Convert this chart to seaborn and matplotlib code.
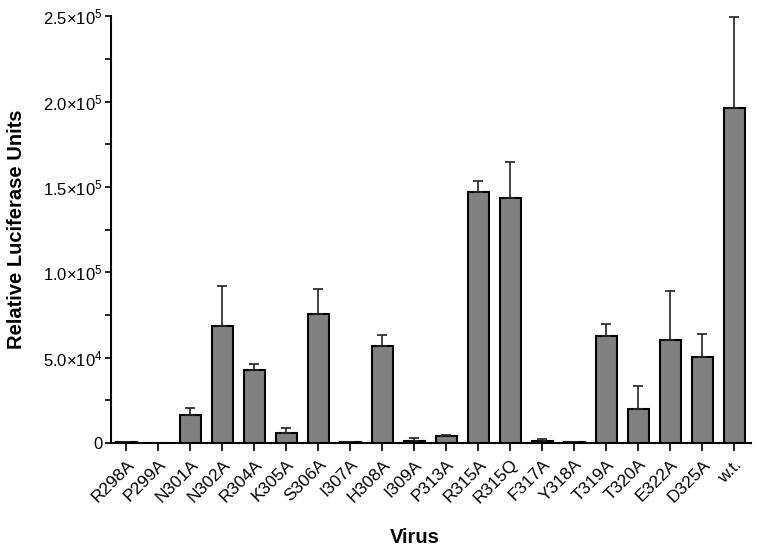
import matplotlib
matplotlib.use("Agg")
import matplotlib.pyplot as plt
import seaborn as sns
import pandas as pd
import numpy as np

viruses = ["R298A", "P299A", "N301A", "N302A", "R304A", "K305A", "S306A", "I307A",
           "H308A", "I309A", "P313A", "R315A", "R315Q", "F317A", "Y318A", "T319A",
           "T320A", "E322A", "D325A", "w.t."]
values = [400, 150, 16400, 68800, 42600, 5900, 75300, 600,
          56700, 1200, 3900, 147100, 143800, 1400, 500, 62700,
          19800, 60600, 50400, 196200]
errors = [300, 100, 4100, 22900, 3400, 3100, 15000, 200,
          6400, 1500, 800, 6500, 20600, 1200, 200, 6900,
          13800, 28300, 13700, 53300]
ytick_vals = [0, 50000, 100000, 150000, 200000, 250000]
ytick_labels = ["0", r"$5.0{\times}10^{4}$", r"$1.0{\times}10^{5}$",
                r"$1.5{\times}10^{5}$", r"$2.0{\times}10^{5}$", r"$2.5{\times}10^{5}$"]

sns.set_style("white")
plt.rcParams['font.family'] = ['Liberation Sans', 'DejaVu Sans']
plt.rcParams['mathtext.fontset'] = 'custom'
plt.rcParams['mathtext.rm'] = 'Liberation Sans'
plt.rcParams['mathtext.it'] = 'Liberation Sans'
plt.rcParams['mathtext.default'] = 'regular'
for key in ['text.color', 'axes.labelcolor', 'xtick.color', 'ytick.color']:
    plt.rcParams[key] = 'black'

n = len(viruses)
df = pd.DataFrame({"Virus": viruses, "RLU": values})

fig = plt.figure(figsize=(7.59, 5.53), dpi=100)
ax = fig.add_axes([0.146, 0.199, 0.843, 0.7715])

sns.barplot(data=df, x="Virus", y="RLU", color="#808080", saturation=1,
            edgecolor="black", linewidth=1.5, width=0.66, errorbar=None, ax=ax)
x = np.arange(n)
ax.errorbar(x, values, yerr=[np.zeros(n), errors], fmt="none",
            ecolor="#222222", elinewidth=1.2, capsize=3.6, capthick=1.2, zorder=1)

ax.set_ylim(0, 250000)
ax.set_xlim(-0.49, n - 1 + 0.51)
ax.set_yticks(np.arange(0, 250001, 25000), minor=True)
ax.set_yticks(ytick_vals)
ax.set_yticklabels(ytick_labels, fontsize=12)
ax.set_xticks(x)
ax.set_xticklabels(viruses, rotation=45, ha="right", rotation_mode="anchor", fontsize=12.5)
ax.tick_params(axis="y", which="both", direction="out", length=4, width=1.2, left=True, pad=2)
ax.tick_params(axis="x", direction="out", length=6, width=1.2, bottom=True, pad=4)
for s in ["top", "right"]:
    ax.spines[s].set_visible(False)
for s in ["left", "bottom"]:
    ax.spines[s].set_linewidth(1.5)
    ax.spines[s].set_color("black")

ax.set_ylabel("Relative Luciferase Units", fontsize=14.5, fontweight="bold")
ax.yaxis.set_label_coords(-0.133, 0.5)
ax.set_xlabel("Virus", fontsize=14.5, fontweight="bold")
ax.xaxis.set_label_coords(0.475, -0.2)

fig.savefig("out.png", dpi=100)
